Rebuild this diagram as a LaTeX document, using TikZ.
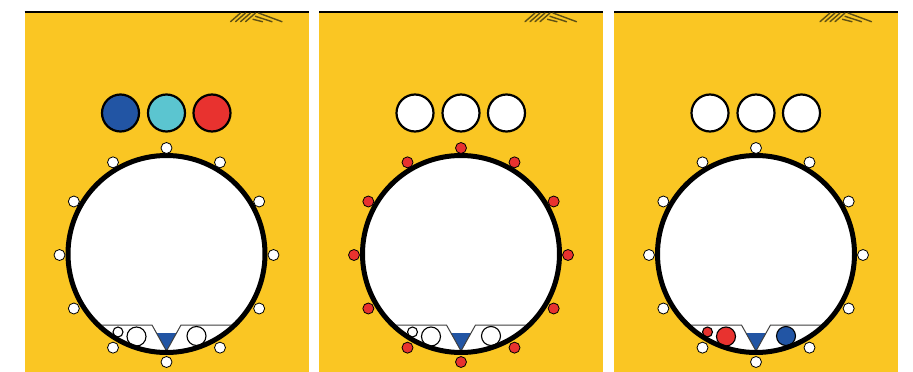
\documentclass[tikz,border=0pt]{standalone}
\usetikzlibrary{calc}
\definecolor{panelyellow}{RGB}{250,198,35}
\definecolor{dotblue}{RGB}{34,85,164}
\definecolor{dotcyan}{RGB}{91,197,208}
\definecolor{dotred}{RGB}{232,50,47}
\definecolor{hatchcol}{RGB}{95,80,20}
\tikzset{
  panelbg/.style={fill=panelyellow, draw=none},
  topline/.style={line width=2pt, draw=black},
  bigring/.style={line width=5pt, draw=black, fill=white},
  rimdot/.style={line width=0.8pt, draw=black},
  topdot/.style={line width=2.2pt, draw=black},
  stripline/.style={line width=1pt, draw=black!75},
  stripdot/.style={line width=1.1pt, draw=black},
  hatchline/.style={line width=1.4pt, draw=hatchcol, line cap=round},
}
\begin{document}
\begin{tikzpicture}[x=1pt,y=-1pt]
\useasboundingbox (0,0) rectangle (913,372);
\fill[white] (0,0) rectangle (913,372);
\foreach \L/\rim/\ca/\cb/\cc/\sa/\sb/\sc [count=\k] in {
  24.5/white/dotblue/dotcyan/dotred/white/white/white,
  319/dotred/white/white/white/white/white/white,
  614/white/white/white/white/dotred/dotred/dotblue}{
  \begin{scope}[shift={(\L-24.5,0)}]
    % panel
    \path[panelbg] (24.5,12) rectangle (308.5,372);
    \draw[topline] (24.5,12) -- (308.5,12);
    % hatch mark
    \foreach \i in {0,...,3}{
      \draw[hatchline] (230.5+5*\i,21.7) -- (240.5+5*\i,13);
    }
    \draw[hatchline] (258.5,13) -- (282,21.7);
    \draw[hatchline] (255.5,16.3) -- (272,21.7);
    \draw[hatchline] (253,19.3) -- (262.5,21.7);
    % top dots
    \draw[topdot, fill=\ca] (120.5,113) circle[radius=18.5pt];
    \draw[topdot, fill=\cb] (166.5,113) circle[radius=18.5pt];
    \draw[topdot, fill=\cc] (212,113) circle[radius=18.5pt];
    % big circle
    \coordinate (c\k) at (166.5,254);
    \fill[white] (c\k) circle[radius=98.5pt];
    \begin{scope}
      \clip (c\k) circle[radius=98.5pt];
      \fill[dotblue] (156.5,333) -- (176.5,333) -- (166.5,351) -- cycle;
      \draw[stripline] (60,325) -- (152,325) -- (166.5,351) -- (181,325) -- (280,325);
      \draw[stripdot, fill=\sa] (118,332) circle[radius=5pt];
      \draw[stripdot, fill=\sb] (136.5,336.5) circle[radius=9.5pt];
      \draw[stripdot, fill=\sc] (196.5,336) circle[radius=9.5pt];
    \end{scope}
    \draw[bigring, fill=none] (c\k) circle[radius=98.5pt];
    % rim dots
    \foreach \a in {0,30,...,330}{
      \draw[rimdot, fill=\rim] ($(166.5,255)+(\a:107pt)$) circle[radius=5.5pt];
    }
  \end{scope}
}
\end{tikzpicture}
\end{document}
